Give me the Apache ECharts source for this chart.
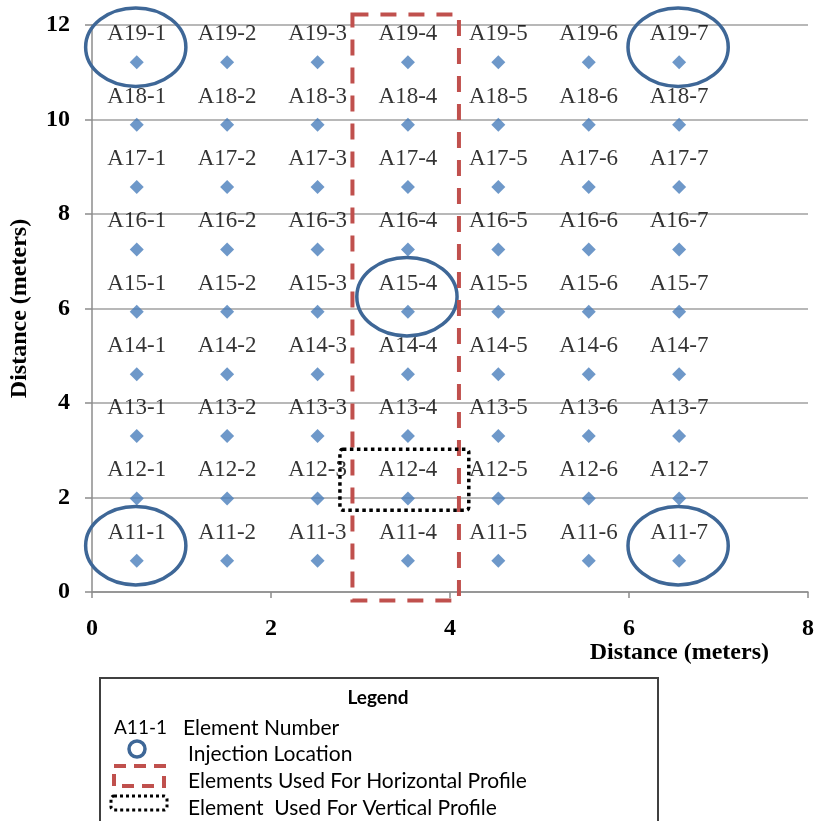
<!DOCTYPE html>
<html>
<head>
<meta charset="utf-8">
<script src="https://cdn.jsdelivr.net/npm/echarts@6/dist/echarts.min.js"></script>
<style>
html,body{margin:0;padding:0;background:#fff;}
#main{width:814px;height:821px;}
</style>
</head>
<body>
<div id="main"></div>
<script>
// element grid: rows A11..A19, columns 1..7
var rowIds = [11, 12, 13, 14, 15, 16, 17, 18, 19];
var colIds = [1, 2, 3, 4, 5, 6, 7];
var colX = [0.5, 1.51, 2.52, 3.53, 4.54, 5.55, 6.56];
var rowY = [0.66, 1.98, 3.3, 4.61, 5.93, 7.25, 8.57, 9.89, 11.21];
var xTicks = [0, 2, 4, 6, 8];
var yTicks = [0, 2, 4, 6, 8, 10, 12];
var injection = ['A19-1', 'A19-7', 'A11-1', 'A11-7', 'A15-4'];
// [x0, y0, x1, y1] in meters
var horizProfile = [2.91, -0.18, 4.1, 12.22];
var vertProfile = [2.77, 1.73, 4.21, 3.02];

var serif = '"Liberation Serif", "Times New Roman", serif';
var sans = 'Lato, "Open Sans", sans-serif';
var blue = '#3e6797';

var points = [];
var lookup = {};
rowIds.forEach(function(r, i){
	colIds.forEach(function(c, j){
		var name = 'A' + r + '-' + c;
		points.push({name: name, value: [colX[j], rowY[i]]});
		lookup[name] = [colX[j], rowY[i]];
	});
});
var ellipseData = injection.map(function(n){ return lookup[n]; });

function rectItem(style){
	return function(params, api){
		var p0 = api.coord([api.value(0), api.value(3)]);
		var p1 = api.coord([api.value(2), api.value(1)]);
		return {
			type: 'rect',
			shape: {x: p0[0], y: p0[1], width: p1[0] - p0[0], height: p1[1] - p0[1], r: style.r || 0},
			style: {fill: 'none', stroke: style.stroke, lineWidth: style.lineWidth, lineDash: style.lineDash}
		};
	};
}

var myChart = echarts.init(document.getElementById('main'));

var option = {
	animation: false,
	backgroundColor: '#fff',
	grid: {left: 92, right: 6, top: 25, bottom: 229, containLabel: false, outerBoundsMode: 'none'},
	xAxis: {
		type: 'value',
		min: xTicks[0],
		max: xTicks[xTicks.length - 1],
		interval: 2,
		axisLine: {show: true, lineStyle: {color: '#8c8c8c', width: 1.5}},
		axisTick: {show: true, inside: false, length: 6, lineStyle: {color: '#8c8c8c', width: 1.5}},
		axisLabel: {margin: 25, fontFamily: serif, fontWeight: 'bold', fontSize: 24, color: '#000'},
		splitLine: {show: false}
	},
	yAxis: {
		type: 'value',
		min: yTicks[0],
		max: yTicks[yTicks.length - 1],
		interval: 2,
		name: 'Distance (meters)',
		nameLocation: 'middle',
		nameGap: 60,
		nameTextStyle: {fontFamily: serif, fontWeight: 'bold', fontSize: 24, color: '#000'},
		axisLine: {show: true, lineStyle: {color: '#8c8c8c', width: 1.5}},
		axisTick: {show: true, inside: false, length: 7, lineStyle: {color: '#8c8c8c', width: 1.5}},
		axisLabel: {margin: 22, fontFamily: serif, fontWeight: 'bold', fontSize: 24, color: '#000'},
		splitLine: {show: true, lineStyle: {color: '#a0a0a0', width: 1.5}}
	},
	series: [
		{
			type: 'scatter',
			symbol: 'diamond',
			symbolSize: 14,
			itemStyle: {color: '#4a7ebb'},
			label: {
				show: true,
				position: 'inside',
				offset: [0, -28],
				formatter: '{b}',
				fontFamily: serif,
				fontSize: 23,
				color: '#000'
			},
			data: points,
			z: 3
		},
		{
			type: 'custom',
			data: ellipseData,
			z: 5,
			renderItem: function(params, api){
				var c = api.coord([api.value(0), api.value(1) + 0.32]);
				var s = api.size([0.56, 0.83]);
				return {
					type: 'ellipse',
					shape: {cx: c[0] - 1, cy: c[1], rx: s[0], ry: s[1]},
					style: {fill: 'none', stroke: blue, lineWidth: 3.5}
				};
			}
		},
		{
			type: 'custom',
			data: [horizProfile],
			z: 6,
			renderItem: rectItem({stroke: '#c0504d', lineWidth: 4, lineDash: [16, 12]})
		},
		{
			type: 'custom',
			data: [vertProfile],
			z: 6,
			renderItem: rectItem({stroke: '#000', lineWidth: 3.5, lineDash: [3.5, 3.5], r: 3})
		}
	],
	graphic: [
		// x axis title, right-aligned under the axis end
		{type: 'text', x: 769, y: 653, style: {text: 'Distance (meters)', fontFamily: serif, fontWeight: 'bold', fontSize: 24, fill: '#000', align: 'right', verticalAlign: 'middle'}},
		// legend box
		{type: 'rect', shape: {x: 100, y: 678, width: 558, height: 160},
			style: {fill: '#fff', stroke: '#404040', lineWidth: 2}},
		{type: 'text', x: 378, y: 698, style: {text: 'Legend', fontFamily: sans, fontWeight: 'bold', fontSize: 19, fill: '#000', align: 'center', verticalAlign: 'middle'}},
		{type: 'text', x: 114, y: 728, style: {text: 'A11-1', fontFamily: sans, fontSize: 19, fill: '#000', verticalAlign: 'middle'}},
		{type: 'text', x: 183, y: 728, style: {text: 'Element Number', fontFamily: sans, fontSize: 21, fill: '#000', verticalAlign: 'middle'}},
		{type: 'circle', shape: {cx: 137, cy: 749, r: 8}, style: {fill: 'none', stroke: blue, lineWidth: 3.5}},
		{type: 'text', x: 188, y: 754, style: {text: 'Injection Location', fontFamily: sans, fontSize: 21, fill: '#000', verticalAlign: 'middle'}},
		{type: 'rect', shape: {x: 114, y: 766, width: 50, height: 20}, style: {fill: 'none', stroke: '#c0504d', lineWidth: 4, lineDash: [12, 8]}},
		{type: 'text', x: 188, y: 781, style: {text: 'Elements Used For Horizontal Profile', fontFamily: sans, fontSize: 21, fill: '#000', verticalAlign: 'middle'}},
		{type: 'rect', shape: {x: 111, y: 796, width: 56, height: 14, r: 3}, style: {fill: 'none', stroke: '#000', lineWidth: 3, lineDash: [3, 3]}},
		{type: 'text', x: 188, y: 808, style: {text: 'Element  Used For Vertical Profile', fontFamily: sans, fontSize: 21, fill: '#000', verticalAlign: 'middle'}}
	]
};

myChart.setOption(option);
window.onresize = myChart.resize;
</script>
</body>
</html>
